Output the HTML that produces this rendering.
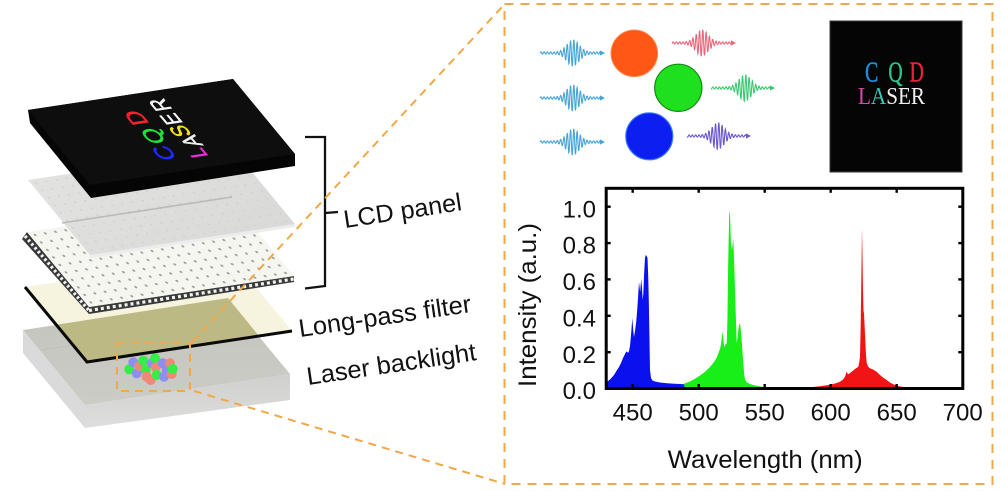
<!DOCTYPE html>
<html>
<head>
<meta charset="utf-8">
<style>
  html,body{margin:0;padding:0;background:#fff;}
  body{width:1000px;height:491px;overflow:hidden;}
  svg{display:block;}
</style>
</head>
<body>
<svg width="1000" height="491" viewBox="0 0 1000 491" xmlns="http://www.w3.org/2000/svg" font-family="'Liberation Sans', Arial, sans-serif">
  <defs>
    <pattern id="dots" width="10.25" height="7.5" patternUnits="userSpaceOnUse">
      <circle cx="5" cy="3.7" r="1.15" fill="#9c9c9c"/>
    </pattern>
    <pattern id="gdots" width="10.25" height="7.5" patternUnits="userSpaceOnUse">
      <circle cx="5" cy="3.7" r="0.9" fill="#cfcfcf"/>
    </pattern>
    <linearGradient id="blTop" x1="0" y1="0" x2="0" y2="1">
      <stop offset="0" stop-color="#c3c4bc"/>
      <stop offset="1" stop-color="#cbccc6"/>
    </linearGradient>
    <linearGradient id="blFront" x1="0" y1="0" x2="0" y2="1">
      <stop offset="0" stop-color="#cfcfcd"/>
      <stop offset="1" stop-color="#dedede"/>
    </linearGradient>
    <linearGradient id="graySheet" x1="0" y1="0" x2="1" y2="1">
      <stop offset="0" stop-color="#e2e2e0"/>
      <stop offset="1" stop-color="#d9d9d7"/>
    </linearGradient>
  </defs>

  <!-- ===== LEFT ILLUSTRATION ===== -->
  <!-- Laser backlight box -->
  <polygon points="23,330 85,405 85,428 23,353" fill="#dadada"/>
  <polygon points="85,405 290,374 290,400 85,428" fill="url(#blFront)"/>
  <polygon points="23,330 228,299 290,374 85,405" fill="url(#blTop)"/>
  <line x1="40" y1="350" x2="250" y2="320" stroke="#bdbdb6" stroke-width="0.8"/>
  <!-- colored dots -->
  <g>
    <circle cx="129.3" cy="369.3" r="5" fill="#33ee44"/>
    <circle cx="133.3" cy="362.3" r="5" fill="#8e8ef0"/>
    <circle cx="136.7" cy="373.3" r="5" fill="#8e8ef0"/>
    <circle cx="139.3" cy="366" r="5" fill="#f08878"/>
    <circle cx="143.3" cy="360.7" r="5" fill="#33ee44"/>
    <circle cx="145.7" cy="370" r="5" fill="#33ee44"/>
    <circle cx="146.7" cy="376.7" r="5" fill="#f08878"/>
    <circle cx="150.7" cy="380" r="5" fill="#f08878"/>
    <circle cx="151.7" cy="363.3" r="5" fill="#8e8ef0"/>
    <circle cx="155" cy="358.3" r="5" fill="#33ee44"/>
    <circle cx="155.7" cy="367.3" r="5" fill="#f08878"/>
    <circle cx="156.7" cy="375" r="5" fill="#33ee44"/>
    <circle cx="162.7" cy="363.3" r="5" fill="#8e8ef0"/>
    <circle cx="164" cy="376.7" r="5" fill="#8e8ef0"/>
    <circle cx="166.7" cy="370" r="5" fill="#8e8ef0"/>
    <circle cx="170" cy="363.3" r="5" fill="#f08878"/>
    <circle cx="171.7" cy="374" r="5" fill="#f08878"/>
    <circle cx="172.7" cy="369" r="5" fill="#33ee44"/>
  </g>

  <!-- Long-pass filter -->
  <polygon points="25,287 230,256 292,331 87,362" fill="#f6f4de"/>
  <polygon points="56.3,324.8 228,298 258.3,335.2 87,362" fill="#bdb984"/>
  <polyline points="25,287 87,362 292,331" fill="none" stroke="#0a0a0a" stroke-width="3"/>

  <!-- Dotted sheet -->
  <polygon points="27,232 89,307 89,314 22,239" fill="#3a3a3a"/>
  <polygon points="89,307 294,276 294,282 89,314" fill="#3a3a3a"/>
  <line x1="25" y1="236" x2="89" y2="310.5" stroke="#f2f2f2" stroke-width="3.2" stroke-dasharray="2.5 2.5"/>
  <line x1="89" y1="310.5" x2="294" y2="279" stroke="#f2f2f2" stroke-width="3.2" stroke-dasharray="3 3"/>
  <g transform="matrix(1,-0.1512,0.8267,1,27,232)">
    <rect x="0" y="0" width="205" height="75" fill="#f6f6f0"/>
    <rect x="0" y="0" width="205" height="75" fill="url(#dots)"/>
  </g>

  <!-- Gray sheet -->
  <polygon points="90,255 295,224 295,227 90,258" fill="#ececec"/>
  <g transform="matrix(1,-0.1512,0.8267,1,28,180)">
    <rect x="0" y="0" width="205" height="75" fill="url(#graySheet)"/>
    <rect x="0" y="0" width="205" height="75" fill="url(#gdots)"/>
  </g>
  <line x1="62" y1="223" x2="232" y2="197" stroke="#b9b9b9" stroke-width="1.5"/>

  <!-- Black top panel -->
  <polygon points="28,110 233,79 295,154 295,166 91,198 30,123" fill="#050505"/>
  <polygon points="28,110 233,79 295,154 90,185" fill="#0e0e0e"/>
  <!-- CQD LASER on panel -->
  <g font-size="23" text-anchor="middle" stroke-width="0.6">
    <text transform="translate(164,153) matrix(-0.7,-0.84,0.99,-0.15,0,0)" dy="8" fill="#1f2cff" stroke="#1f2cff">C</text>
    <text transform="translate(153,136) matrix(-0.7,-0.84,0.99,-0.15,0,0)" dy="8" fill="#22e23a" stroke="#22e23a">Q</text>
    <text transform="translate(136,118) matrix(-0.7,-0.84,0.99,-0.15,0,0)" dy="8" fill="#ff2030" stroke="#ff2030">D</text>
    <text transform="translate(197,153) matrix(-0.6,-0.72,0.99,-0.15,0,0)" dy="8" fill="#e630d8" stroke="#e630d8">L</text>
    <text transform="translate(191,141) matrix(-0.6,-0.72,0.99,-0.15,0,0)" dy="8" fill="#eeeeee" stroke="#eeeeee">A</text>
    <text transform="translate(180,131) matrix(-0.6,-0.72,0.99,-0.15,0,0)" dy="8" fill="#f3e21a" stroke="#f3e21a">S</text>
    <text transform="translate(171,119) matrix(-0.6,-0.72,0.99,-0.15,0,0)" dy="8" fill="#f5f5f5" stroke="#f5f5f5">E</text>
    <text transform="translate(160,105) matrix(-0.6,-0.72,0.99,-0.15,0,0)" dy="8" fill="#f5f5f5" stroke="#f5f5f5">R</text>
  </g>

  <!-- Bracket -->
  <path d="M305,137 L325,137 L325,286 L305,288.5" fill="none" stroke="#111" stroke-width="2.3"/>
  <line x1="325" y1="213" x2="338" y2="212" stroke="#111" stroke-width="2.3"/>

  <!-- Labels -->
  <text transform="translate(345,228) rotate(-8.7)" font-size="25" fill="#111" textLength="119" lengthAdjust="spacingAndGlyphs">LCD panel</text>
  <text transform="translate(300,337) rotate(-8.3)" font-size="25" fill="#111" textLength="174" lengthAdjust="spacingAndGlyphs">Long-pass filter</text>
  <text transform="translate(308,385) rotate(-8.4)" font-size="25" fill="#111" textLength="171" lengthAdjust="spacingAndGlyphs">Laser backlight</text>

  <!-- Orange dashed connectors -->
  <g fill="none" stroke="#f0a848" stroke-width="2" stroke-dasharray="8 6">
    <rect x="117" y="343" width="73" height="48"/>
    <line x1="192" y1="342" x2="502" y2="7"/>
    <line x1="194" y1="391" x2="505" y2="484"/>
    <rect x="504.5" y="4" width="488" height="480" stroke-dasharray="9 7"/>
  </g>

  <!-- ===== TOP RIGHT DIAGRAM ===== -->
  <g id="waves"></g>
  <circle cx="634.3" cy="53.3" r="23.3" fill="#ff5716" stroke="#ff8a50" stroke-width="1"/>
  <circle cx="678.3" cy="87.8" r="23.6" fill="#1ee01e" stroke="#138a13" stroke-width="1.2"/>
  <circle cx="649.3" cy="136.3" r="23.5" fill="#0c1ff0" stroke="#3a7aff" stroke-width="1.2"/>

  <!-- Photo -->
  <rect x="830" y="21" width="132" height="151" fill="#050505" stroke="#3a3a3a" stroke-width="1"/>
  <g font-family="'Liberation Serif', 'Times New Roman', serif" font-size="29" text-anchor="middle" stroke-width="0.5">
    <text transform="translate(871.7,81.7) scale(0.68,1)" fill="#1c8fe2" stroke="#1c8fe2">C</text>
    <text transform="translate(895.5,81.7) scale(0.68,1)" fill="#2ec28c" stroke="#2ec28c">Q</text>
    <text transform="translate(916.7,81.7) scale(0.68,1)" fill="#e8203c" stroke="#e8203c">D</text>
  </g>
  <text x="858" y="104" font-family="'Liberation Serif', 'Times New Roman', serif" font-size="24" textLength="67" lengthAdjust="spacingAndGlyphs"><tspan fill="#e446aa">L</tspan><tspan fill="#34c8b2">A</tspan><tspan fill="#f0f0f0">SER</tspan></text>

  <!-- ===== SPECTRUM CHART ===== -->
  <!-- Blue -->
  <path fill="#0a10ee" d="M606.7,388.5 L606.7,382 L610,379.5 L614,375 L617,370 L619,367 L621,363 L623,358 L624.5,355 L626,352 L627,351.5 L628,353 L629,351 L630,346 L631.2,333 L632.3,318 L633.2,330 L634,337 L635,331 L636.2,322 L637.2,310 L638.2,295 L639,282 L639.7,288 L640.2,292 L640.7,285 L641.3,279 L642,288 L642.7,300 L643.3,294 L644.2,272 L645,258 L645.7,255 L646.6,256 L647.5,258 L648.2,276 L648.8,300 L649.4,335 L650,370 L651,378 L652.5,380.5 L655,381.5 L660,382.5 L667,383.3 L675,383.8 L684.5,384.2 L684.5,388.5 Z"/>
  <!-- Green -->
  <path fill="#18ee18" d="M684.3,388.5 L684.3,383.5 L690,381.5 L695,378.8 L700,375.5 L705,371.8 L710,367 L714,362 L716.5,358 L718.3,353.5 L720,349 L721,344 L721.7,338 L722.7,331.5 L723.5,341 L724.3,347 L725.5,344.5 L726.7,343 L727.4,322 L728.2,262 L729.3,210 L730.1,216 L731,244 L732,250 L732.7,243 L733.3,238.5 L734,258 L735,290 L736,322 L736.7,343 L737.5,338 L738.3,330 L739.2,325 L740,323 L740.8,330 L741.7,340 L742.5,352 L743.3,363 L744.2,374 L745,379.5 L747,382.5 L750,384 L753.3,385 L758,386 L763.3,387 L770,388 L770,388.5 Z"/>
  <!-- Red -->
  <path fill="#f01414" d="M800,388.5 L813,387 L820,386.3 L825,385.5 L830,384.8 L835,383.5 L840,381.7 L843,379.5 L845,376.7 L846.2,373 L846.8,371.5 L847.5,373.5 L848.3,374.3 L850,373 L851.7,371.7 L855,369 L858.3,366.7 L859.3,362 L860,356.7 L860.6,330 L861.2,290 L861.7,250 L862,228.3 L862.4,250 L863,290 L863.5,311 L864,313.3 L864.6,326 L865.3,340 L866,355 L866.7,363 L868,366.5 L870,368.3 L873,369.5 L876.7,371.7 L880,375 L883,377.5 L886.7,380 L890,382.5 L893.3,384.3 L898,386 L903.3,387 L910,388 L910,388.5 Z"/>

  <!-- Frame -->
  <rect x="606.2" y="188.3" width="356.6" height="200.2" fill="none" stroke="#000" stroke-width="3"/>
  <!-- ticks -->
  <g stroke="#000" stroke-width="2.4">
    <line x1="632.7" y1="388.5" x2="632.7" y2="384"/>
    <line x1="698.7" y1="388.5" x2="698.7" y2="384"/>
    <line x1="764.7" y1="388.5" x2="764.7" y2="384"/>
    <line x1="830.7" y1="388.5" x2="830.7" y2="384"/>
    <line x1="896.7" y1="388.5" x2="896.7" y2="384"/>
    <line x1="632.7" y1="188.3" x2="632.7" y2="192.8"/>
    <line x1="698.7" y1="188.3" x2="698.7" y2="192.8"/>
    <line x1="764.7" y1="188.3" x2="764.7" y2="192.8"/>
    <line x1="830.7" y1="188.3" x2="830.7" y2="192.8"/>
    <line x1="896.7" y1="188.3" x2="896.7" y2="192.8"/>
    <line x1="606.2" y1="206.7" x2="610.7" y2="206.7"/>
    <line x1="606.2" y1="243.1" x2="610.7" y2="243.1"/>
    <line x1="606.2" y1="279.4" x2="610.7" y2="279.4"/>
    <line x1="606.2" y1="315.8" x2="610.7" y2="315.8"/>
    <line x1="606.2" y1="352.2" x2="610.7" y2="352.2"/>
    <line x1="962.8" y1="206.7" x2="958.3" y2="206.7"/>
    <line x1="962.8" y1="243.1" x2="958.3" y2="243.1"/>
    <line x1="962.8" y1="279.4" x2="958.3" y2="279.4"/>
    <line x1="962.8" y1="315.8" x2="958.3" y2="315.8"/>
    <line x1="962.8" y1="352.2" x2="958.3" y2="352.2"/>
  </g>
  <!-- y tick labels -->
  <g font-size="24" fill="#111" text-anchor="end">
    <text x="596" y="217.3">1.0</text>
    <text x="596" y="253.7">0.8</text>
    <text x="596" y="290">0.6</text>
    <text x="596" y="326.4">0.4</text>
    <text x="596" y="362.8">0.2</text>
    <text x="596" y="399.1">0.0</text>
  </g>
  <!-- x tick labels -->
  <g font-size="24" fill="#111" text-anchor="middle">
    <text x="632.7" y="420.7">450</text>
    <text x="698.7" y="420.7">500</text>
    <text x="764.7" y="420.7">550</text>
    <text x="830.7" y="420.7">600</text>
    <text x="896.7" y="420.7">650</text>
    <text x="962.7" y="420.7">700</text>
  </g>
  <text x="765.2" y="468" font-size="25" fill="#111" text-anchor="middle" textLength="195" lengthAdjust="spacingAndGlyphs">Wavelength (nm)</text>
  <text transform="translate(536,305) rotate(-90)" font-size="25" fill="#111" text-anchor="middle" textLength="164" lengthAdjust="spacingAndGlyphs">Intensity (a.u.)</text>
</svg>

<script>
(function(){
  var g=document.getElementById('waves');
  var NS='http://www.w3.org/2000/svg';
  var specs=[
    [540,605,573,53,'#45a5d5'],
    [540,605,573,98,'#45a5d5'],
    [540,605,573,142,'#45a5d5'],
    [672,736,702,43,'#e8687a'],
    [711,775,745,88,'#3cc870'],
    [687,751,718,136,'#6a58cc']
  ];
  specs.forEach(function(s){
    var x0=s[0],x1=s[1]-5,xc=s[2],y=s[3],col=s[4];
    var d='';
    var first=true;
    for(var x=x0;x<=x1;x+=0.3){
      var env=Math.exp(-Math.pow((x-xc)/8.5,2));
      var a=13.5*env+1.1*(1-env);
      var yy=y-a*Math.sin(2*Math.PI*(x-xc)/3.3);
      d+=(first?'M':'L')+x.toFixed(2)+','+yy.toFixed(2);
      first=false;
    }
    d+='L'+(s[1]-3)+','+y;
    var p=document.createElementNS(NS,'path');
    p.setAttribute('d',d);
    p.setAttribute('fill','none');
    p.setAttribute('stroke',col);
    p.setAttribute('stroke-width','1.1');
    g.appendChild(p);
    var t=document.createElementNS(NS,'polygon');
    t.setAttribute('points',(s[1]-5)+','+(y-2.6)+' '+s[1]+','+y+' '+(s[1]-5)+','+(y+2.6));
    t.setAttribute('fill',col);
    g.appendChild(t);
  });
})();
</script>
</body>
</html>
